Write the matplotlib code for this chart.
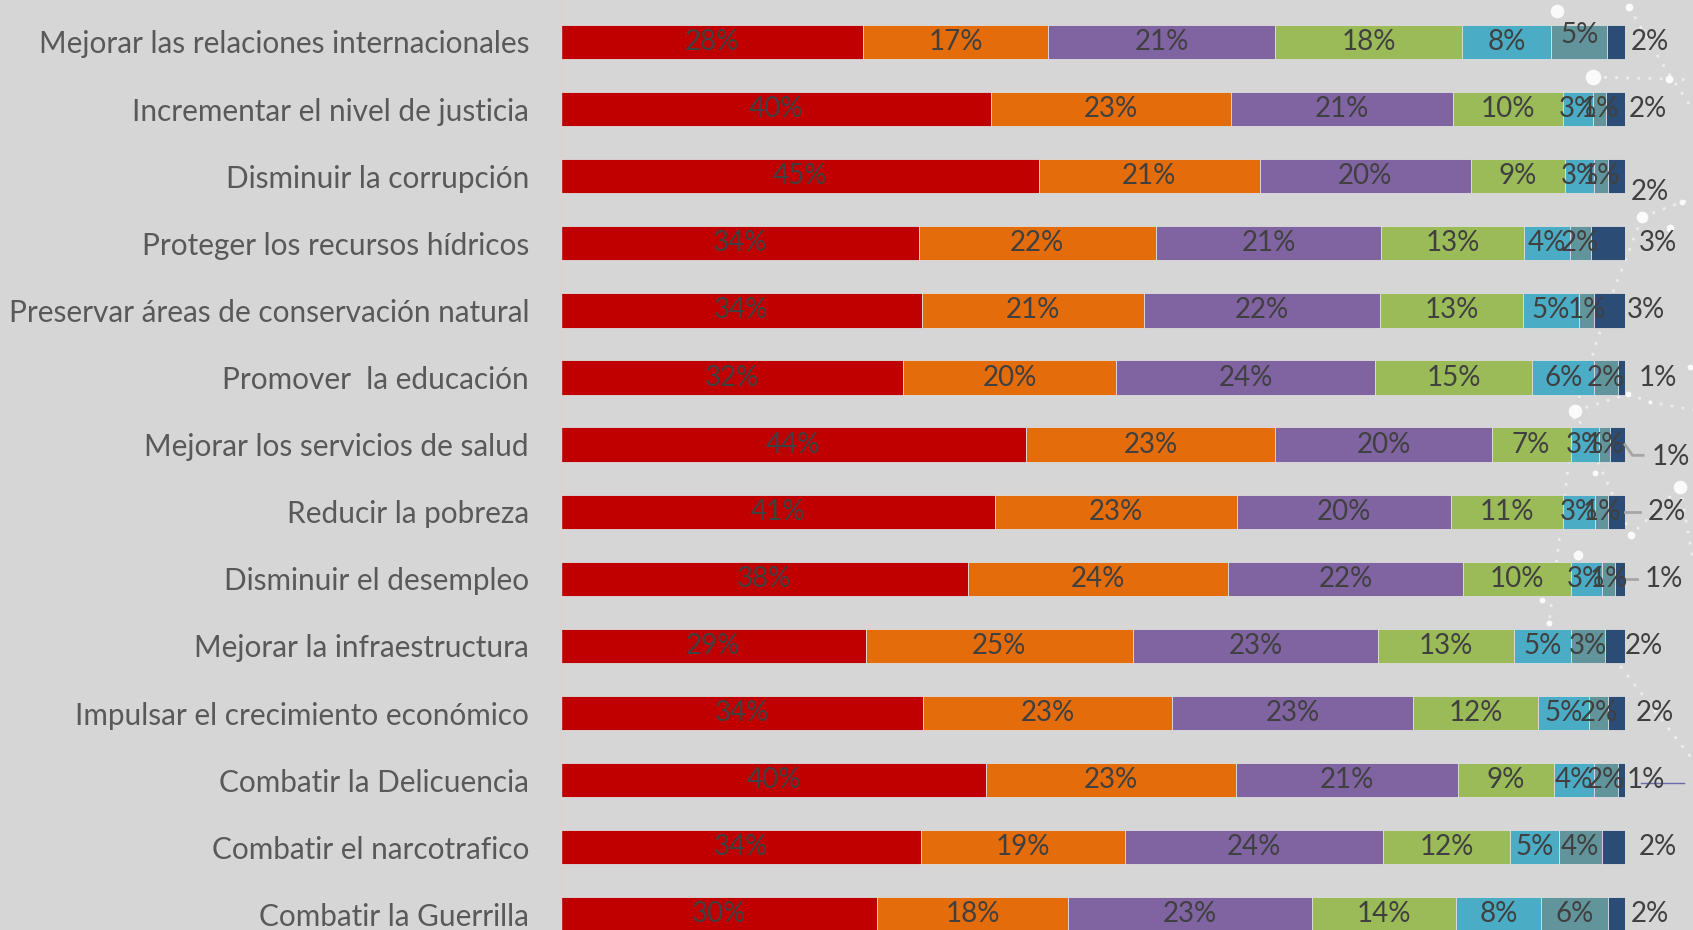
import matplotlib
matplotlib.use("Agg")
import matplotlib.pyplot as plt
import numpy as np

plt.rcParams['font.family'] = ['Lato', 'DejaVu Sans']

# Categories, top to bottom
categories = [
    "Mejorar las relaciones internacionales",
    "Incrementar el nivel de justicia",
    "Disminuir la corrupción",
    "Proteger los recursos hídricos",
    "Preservar áreas de conservación natural",
    "Promover  la educación",
    "Mejorar los servicios de salud",
    "Reducir la pobreza",
    "Disminuir el desempleo",
    "Mejorar la infraestructura",
    "Impulsar el crecimiento económico",
    "Combatir la Delicuencia",
    "Combatir el narcotrafico",
    "Combatir la Guerrilla",
]

# Shares (%) for each of the seven answer levels (estimated from the bars)
s1 = [28.3, 40.4, 44.9, 33.6, 33.9, 32.1, 43.6, 40.8, 38.1, 28.6, 34.1, 39.9, 33.9, 29.8]
s2 = [17.4, 22.6, 20.8, 22.3, 20.8, 20.1, 23.4, 22.8, 24.4, 25.1, 23.4, 23.4, 19.2, 17.9]
s3 = [21.3, 20.8, 19.8, 21.2, 22.2, 24.3, 20.3, 20.1, 22.0, 23.0, 22.7, 20.8, 24.2, 23.0]
s4 = [17.5, 10.4, 8.9, 13.4, 13.4, 14.8, 7.4, 10.6, 10.1, 12.8, 11.7, 9.0, 12.0, 13.6]
s5 = [8.4, 2.8, 2.7, 4.3, 5.3, 5.8, 2.7, 3.0, 2.9, 5.3, 4.8, 3.8, 4.6, 8.0]
s6 = [5.2, 1.2, 1.3, 2.0, 1.4, 2.2, 1.0, 1.2, 1.3, 3.2, 1.8, 2.2, 4.0, 6.3]
s7 = [1.7, 1.8, 1.6, 3.2, 2.9, 0.7, 1.4, 1.6, 0.9, 1.9, 1.6, 0.7, 2.2, 1.6]

series = [s1, s2, s3, s4, s5, s6, s7]
colors = ['#C00000', '#E46C0A', '#8064A2', '#9BBB59', '#4BACC6', '#62959B', '#2B4C74']

# where the last (outside) labels sit, relative to bar end, and small vertical nudges
last_dx = [2.35, 2.15, 2.35, 3.1, 1.95, 3.1, 4.3, 3.9, 3.7, 1.8, 2.8, 2.0, 3.1, 2.35]
last_dy = [0, 0, 0.24, 0, 0, 0, 0.18, 0, 0, 0, 0, 0, 0, 0]

W, H = 1693, 930
fig = plt.figure(figsize=(W / 100, H / 100), dpi=100)
fig.patch.set_facecolor('#D6D6D6')

# background decoration (white dots and dotted strands on the right)
bg = fig.add_axes([0, 0, 1, 1], zorder=0)
bg.set_xlim(0, W)
bg.set_ylim(H, 0)
bg.axis('off')
strands = [[(1629, 7), (1660, 60), (1693, 110)],
           [(1593, 77), (1669, 79), (1693, 80)],
           [(1642, 217), (1610, 300), (1575, 411), (1549, 623)],
           [(1575, 411), (1628, 394), (1650, 402), (1693, 410)],
           [(1575, 411), (1631, 535), (1680, 487)],
           [(1642, 217), (1682, 202), (1693, 200)],
           [(1680, 487), (1693, 560)],
           [(1600, 640), (1693, 760)]]
for s in strands:
    xs, ys = zip(*s)
    bg.plot(xs, ys, color='white', lw=2, ls=(0, (1, 3)), alpha=0.55)
dots = [(1557, 11, 7), (1629, 7, 4), (1593, 77, 8), (1669, 79, 4), (1642, 217, 6),
        (1682, 202, 3), (1670, 228, 4), (1575, 411, 7), (1595, 473, 3), (1680, 487, 7),
        (1631, 535, 4), (1578, 555, 5), (1542, 600, 3), (1549, 623, 3), (1628, 394, 3),
        (1650, 402, 2), (1690, 367, 3)]
for x, y, r in dots:
    bg.scatter([x], [y], s=(r * 1.4) ** 2, color='white', alpha=0.9, lw=0)

# main chart
left_px, right_px = 561, 1625
ax = fig.add_axes([left_px / W, 0, (right_px - left_px) / W, 1], zorder=1)
ax.set_facecolor('none')

data = np.array(series, dtype=float)
totals = data.sum(axis=0)
pct = data / totals * 100
y = np.arange(len(categories))

left = np.zeros(len(categories))
for k, (vals, c) in enumerate(zip(pct, colors)):
    ax.barh(y, vals, left=left, height=0.51, color=c, edgecolor='#dddddd', linewidth=0.6)
    for i in range(len(categories)):
        txt = f"{series[k][i]:.0f}%"
        if k < len(series) - 1:
            dy = -0.1 if (k == 5 and i == 0) else 0
            ax.text(left[i] + vals[i] / 2, y[i] + dy, txt, ha='center', va='center',
                    fontsize=20, color='#404040')
        else:
            ax.text(100 + last_dx[i], y[i] + last_dy[i], txt, ha='center', va='center',
                    fontsize=20, color='#404040', clip_on=False)
    left += vals

# leader lines for the outside labels that sit further away
lead = '#A6A6A6'
ax.plot([100, 100.7, 101.7], [6, 6.16, 6.16], color=lead, lw=2, clip_on=False)
ax.plot([100, 101.4], [7, 7], color=lead, lw=2, clip_on=False)
ax.plot([100, 101.1], [8, 8], color=lead, lw=2, clip_on=False)
ax.plot([101.5, 105.5], [11.05, 11.05], color='#6A6AA8', lw=1, clip_on=False)

ax.set_xlim(0, 100)
ax.set_ylim((H - 42) / 67.1, -42 / 67.1)
ax.set_yticks(y)
ax.set_yticklabels(categories, fontsize=21.4, color='#595959')
ax.tick_params(axis='y', length=0, pad=23)
ax.set_xticks([])
for side in ['top', 'right', 'bottom']:
    ax.spines[side].set_visible(False)
ax.spines['left'].set_color('#E0D0D0')
ax.spines['left'].set_linewidth(1)

fig.savefig('out.png', dpi=100, facecolor=fig.get_facecolor())
